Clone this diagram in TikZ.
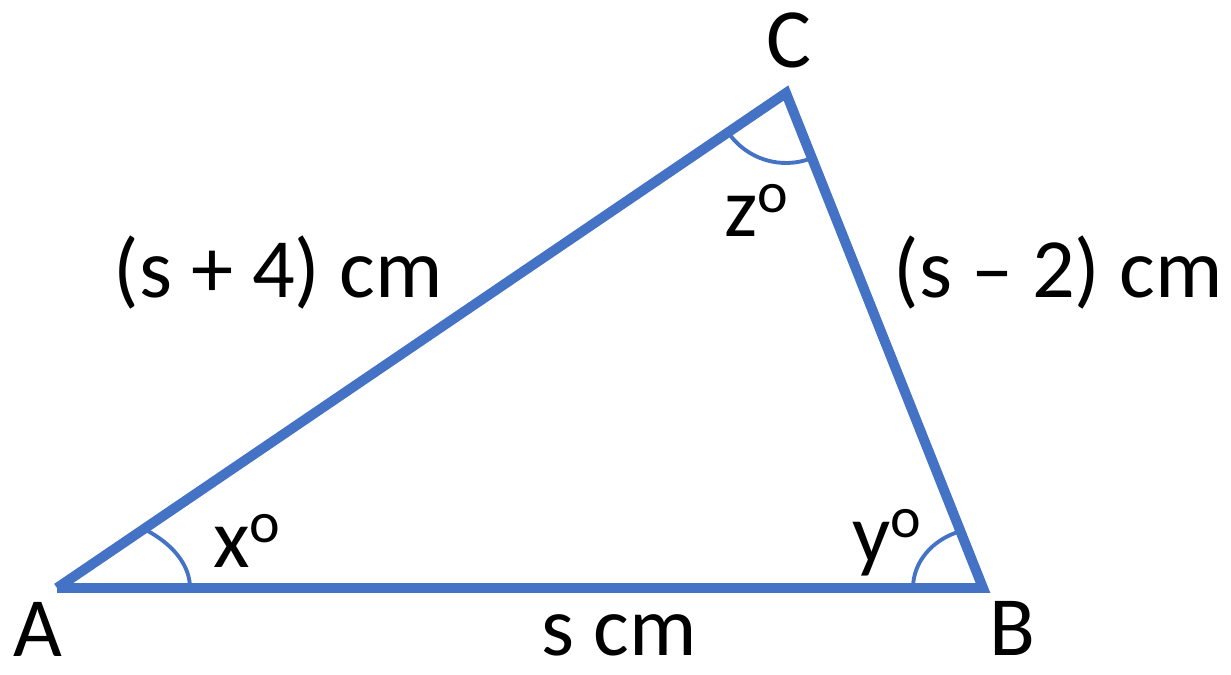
\documentclass[tikz,border=0pt]{standalone}
\usepackage{fontspec}
\setmainfont{Carlito}
\usepackage{xcolor}
\usepackage{tikz}
\usetikzlibrary{calc,positioning}
\definecolor{edgeblue}{HTML}{4472C4}
\newcommand{\degsup}{\raisebox{14pt}{\fontsize{33}{40}\selectfont o}}

\begin{document}
\begin{tikzpicture}[x=0.02cm, y=-0.02cm]
    \tikzset{
        side/.style={draw=edgeblue, line width=0.2cm, line join=miter},
        ang/.style={draw=edgeblue, line width=2.2pt},
        lbl/.style={anchor=base, inner sep=0pt, font={\fontsize{48}{58}\selectfont}}
    }

    \useasboundingbox (0,0) rectangle (1231,675);

    \coordinate (A) at (57,588);
    \coordinate (B) at (983,588);
    \coordinate (C) at (786,93);

    \draw [ang] ($(A)+(133,0)$) arc [start angle=0, end angle=-49.2, x radius=133, y radius=78];
    \draw [ang] ($(B)+(-70,0)$) arc [start angle=180, end angle=251.2, x radius=70, y radius=60];
    \draw [ang] ($(C)+(145.82:70)$) arc [start angle=145.82, end angle=68.3, radius=70];

    \draw [side] (A) -- (B) -- (C) -- (A);

    \node [lbl] (labA) at (38,656) {A};
    \node [lbl] (labB) at (1012,655) {B};
    \node [lbl] (labC) at (789,68) {C};

    \node [lbl] (angx) at (247,567) {x\degsup};
    \node [lbl] (angy) at (887,562) {y\degsup};
    \node [lbl] (angz) at (756,237) {z\degsup};

    \node [lbl] (sideAB) at (619,655) {s cm};
    \node [lbl] (sideAC) at (278,298) {(s + 4) cm};
    \node [lbl] (sideBC) at (1058,298) {(s – 2) cm};
\end{tikzpicture}
\end{document}
